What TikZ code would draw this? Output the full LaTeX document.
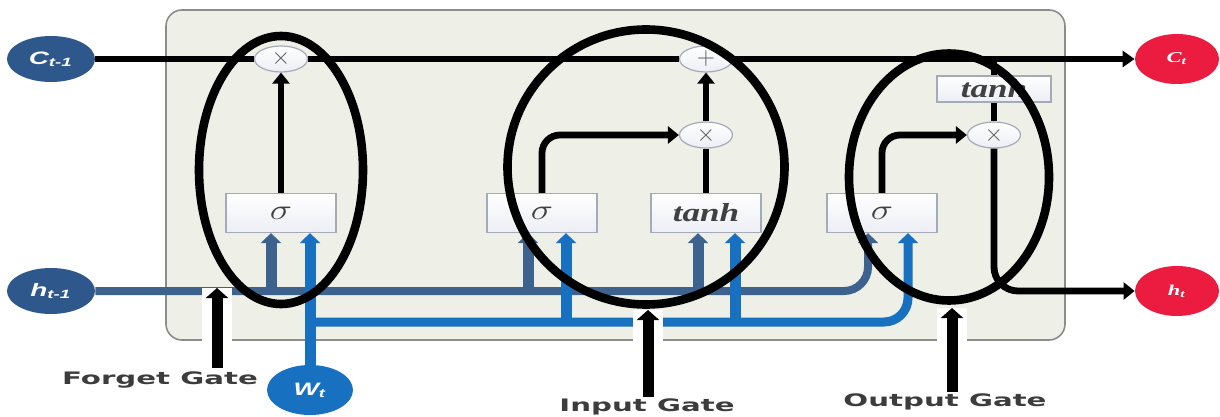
\documentclass[tikz,border=0pt]{standalone}
\usepackage{fontspec}
\newfontfamily\gatefont{DejaVu Sans}
\newfontfamily\circfont{Liberation Sans}
\newfontfamily\outfont{Liberation Serif}
\usetikzlibrary{arrows.meta,positioning,shapes.geometric,calc}

\definecolor{hblue}{RGB}{46,88,140}
\definecolor{hwire}{RGB}{62,98,142}
\definecolor{wblue}{RGB}{24,112,192}
\definecolor{cred}{RGB}{236,28,64}
\definecolor{cellbg}{RGB}{238,240,232}
\definecolor{celledge}{RGB}{140,140,140}
\definecolor{boxedge}{RGB}{165,170,184}
\definecolor{opfill}{RGB}{236,238,245}
\definecolor{lbltext}{RGB}{60,60,60}

\newcommand{\xstretch}[2]{\scalebox{#1}[1]{#2}}
\newcommand{\sig}{\xstretch{1.3}{\fontsize{15}{15}\selectfont$\sigma$}}
\newcommand{\tnh}{\xstretch{1.35}{\outfont\bfseries\itshape\fontsize{13}{13}\selectfont tanh}}

\tikzset{
  bub/.style ={ellipse,inner sep=0pt,text=white},
  inst/.style={bub,fill=hblue,minimum width=44pt,minimum height=23pt,
               font=\circfont\bfseries\itshape\fontsize{9}{9}\selectfont},
  wst/.style ={bub,fill=wblue,minimum width=43pt,minimum height=25pt,
               font=\circfont\bfseries\itshape\fontsize{9}{9}\selectfont},
  outst/.style={bub,fill=cred,minimum width=42pt,minimum height=25pt,
               font=\outfont\bfseries\itshape\fontsize{7.5}{8}\selectfont},
  gatebox/.style={rectangle,draw=boxedge,line width=.6pt,top color=white,
               bottom color=opfill,minimum width=55pt,minimum height=19.5pt,
               inner sep=0pt,text=black!75},
  op/.style  ={ellipse,draw=boxedge,line width=.6pt,top color=white,
               bottom color=opfill,minimum width=26.5pt,minimum height=13pt,
               inner sep=0pt,text=black!65,font=\fontsize{13}{13}\selectfont},
  blk/.style ={line width=3.4pt,black},
  ar/.style  ={blk,-{Triangle[length=5.5pt,width=8.5pt]}},
  hwl/.style ={line width=4pt,hwire},
  wwl/.style ={line width=4.5pt,wblue},
  hin/.style ={line width=5.5pt,hwire,-{Triangle[length=5pt,width=10pt]}},
  win/.style ={line width=5.5pt,wblue,-{Triangle[length=5pt,width=10pt]}},
  ring/.style={ellipse,draw=black,line width=4.3pt,inner sep=0pt},
  halo/.style={white,line width=15pt},
  poke/.style={line width=5.5pt,black,-{Triangle[length=5pt,width=11pt]}},
  gatelbl/.style={font=\gatefont\bfseries\fontsize{8.6}{10}\selectfont,text=lbltext},
}

\begin{document}
\begin{tikzpicture}[x=0.5pt,y=-0.5pt]
  \useasboundingbox (0,0) rectangle (1220,417);
  % cell
  \draw[draw=celledge,fill=cellbg,line width=.8pt,rounded corners=8pt]
       (166,10) rectangle (1065,340);

  % states
  \node[inst]  (ctm) at (51,59)   {\xstretch{1.55}{C\textsubscript{t-1}}};
  \node[inst]  (htm) at (51,291)  {\xstretch{1.55}{h\textsubscript{t-1}}};
  \node[wst]   (wt)  at (310,390) {\xstretch{1.5}{W\textsubscript{t}}};
  \node[outst] (ct)  at (1177,59) {\xstretch{1.5}{C\textsubscript{t}}};
  \node[outst] (ht)  at (1177,291){\xstretch{1.5}{h\textsubscript{t}}};

  % layers and pointwise ops
  \node[gatebox] (fsig)  at (281,213) {\sig};
  \node[gatebox] (isig)  at (542,213) {\sig};
  \node[gatebox] (itanh) at (706,213) {\tnh};
  \node[gatebox] (osig)  at (882,213) {\sig};
  \node[gatebox,minimum width=57pt,minimum height=13pt]
                 (otanh) at (994,89)  {\tnh};
  \node[op] (fmul) at (281,59)  {$\times$};
  \node[op] (iadd) at (706,59)  {$+$};
  \node[op] (imul) at (706,135) {$\times$};
  \node[op] (omul) at (994,135) {$\times$};

  % junctions on the h and W wires
  \coordinate (hj1) at (271,291);
  \coordinate (hj2) at (528,291);
  \coordinate (hj3) at (698,291);
  \coordinate (hj4) at (868,291);
  \coordinate (wj1) at (310,322);
  \coordinate (wj2) at (566,322);
  \coordinate (wj3) at (735,322);
  \coordinate (wj4) at (908,322);

  % h and W wires
  \draw[hwl,rounded corners=12pt,-{Triangle[length=5pt,width=10pt]}]
       (htm.east) -| (hj4 |- osig.south);
  \draw[wwl,rounded corners=12pt,-{Triangle[length=5pt,width=10pt]}]
       (wj1) -| (wj4 |- osig.south);
  \draw[win] (wt) -- (wt |- fsig.south);
  \draw[hin] (hj1) -- (hj1 |- fsig.south);
  \draw[hin] (hj2) -- (hj2 |- isig.south);
  \draw[win] (wj2) -- (wj2 |- isig.south);
  \draw[hin] (hj3) -- (hj3 |- itanh.south);
  \draw[win] (wj3) -- (wj3 |- itanh.south);

  % cell state and gate outputs
  \draw[blk,-{Triangle[length=6pt,width=8pt]}] (ctm) -- (fmul) -- (iadd) -- (ct);
  \draw[ar] (fsig) -- (fmul);
  \draw[ar,rounded corners=9pt] (isig.north) |- (imul.west);
  \draw[blk] (itanh) -- (imul);
  \draw[ar] (imul) -- (iadd);
  \draw[blk,line width=3pt] (otanh.north |- ctm) -- (otanh.north);
  \draw[blk] (otanh) -- (omul);
  \draw[ar,rounded corners=9pt] (osig.north) |- (omul.west);
  \draw[ar,rounded corners=12pt] (omul.south) |- (ht.west);

  % gate rings
  \node[ring,minimum width=82pt,minimum height=134pt]      (fring) at (281,170) {};
  \node[ring,minimum width=138.5pt,minimum height=137.5pt] (iring) at (646,167) {};
  \node[ring,minimum width=100pt,minimum height=123.5pt]   (oring) at (949,177) {};

  % gate labels and pointers
  \node[gatelbl] (flbl) at (160,380) {\xstretch{1.7}{Forget Gate}};
  \node[gatelbl] (ilbl) at (647,407) {\xstretch{1.7}{Input Gate}};
  \node[gatelbl] (olbl) at (945,402) {\xstretch{1.7}{Output Gate}};
  \coordinate (fbot) at (217,368);  \coordinate (ftip) at (217,288);
  \coordinate (ibot) at (648,397);  \coordinate (itip) at (648,310);
  \coordinate (obot) at (952,392);  \coordinate (otip) at (952,308);
  \draw[halo] (fbot) -- (ftip);
  \draw[halo] (ibot) -- (itip);
  \draw[halo] (obot) -- (otip);
  \draw[poke] (fbot) -- (ftip);
  \draw[poke] (ibot) -- (itip);
  \draw[poke] (obot) -- (otip);
\end{tikzpicture}
\end{document}
